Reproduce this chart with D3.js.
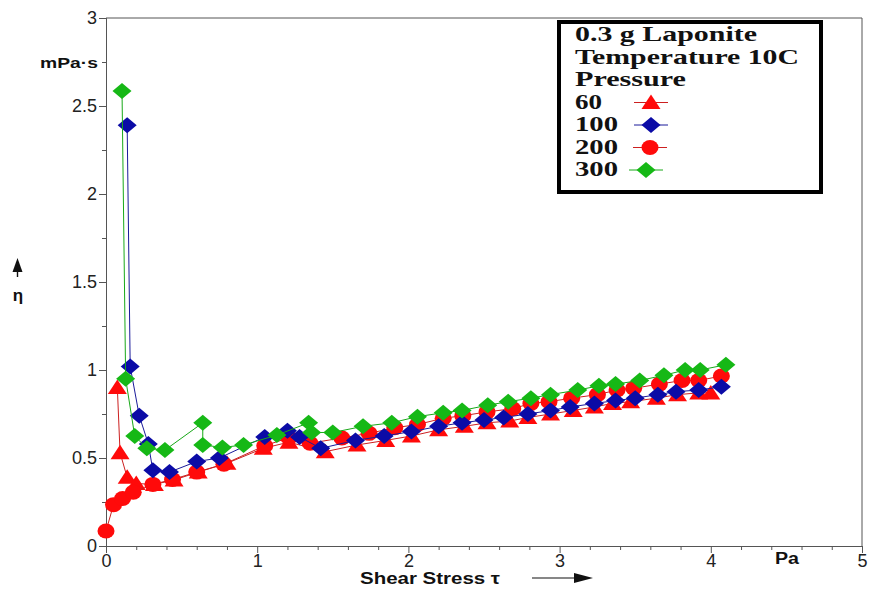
<!DOCTYPE html>
<html>
<head>
<meta charset="utf-8">
<script src="https://cdn.jsdelivr.net/npm/d3@7"></script>
<style>
  html, body { margin: 0; padding: 0; background: #fff; }
  svg { display: block; }
</style>
</head>
<body>
<svg id="chart" width="872" height="591"></svg>
<script>
// Viscosity η (mPa·s) versus shear stress τ (Pa), 0.3 g Laponite at 10 °C, four pressures
const xTicks = [0, 1, 2, 3, 4, 5];
const yTicks = [0, 0.5, 1, 1.5, 2, 2.5, 3];
const yTickLabels = ["0", "0.5", "1", "1.5", "2", "2.5", "3"];
const legendTitle = ["0.3 g Laponite", "Temperature 10C", "Pressure"];
const pressures = ["60", "100", "200", "300"];

// Pressure 60
const stress60 = [0.075, 0.093, 0.14, 0.20, 0.32, 0.45, 0.61, 0.80, 1.04, 1.21, 1.45, 1.66, 1.85, 2.02, 2.20, 2.37, 2.52, 2.67, 2.79, 2.94, 3.09, 3.23, 3.35, 3.47, 3.64, 3.78, 3.92, 4.00];
const visc60   = [0.90, 0.53, 0.39, 0.355, 0.35, 0.375, 0.42, 0.47, 0.555, 0.59, 0.536, 0.574, 0.60, 0.625, 0.66, 0.68, 0.70, 0.71, 0.73, 0.75, 0.77, 0.79, 0.81, 0.82, 0.84, 0.86, 0.87, 0.87];

// Pressure 100
const stress100 = [0.14, 0.16, 0.22, 0.28, 0.31, 0.42, 0.60, 0.75, 1.05, 1.20, 1.28, 1.42, 1.65, 1.84, 2.02, 2.20, 2.355, 2.50, 2.63, 2.79, 2.94, 3.07, 3.23, 3.37, 3.50, 3.65, 3.77, 3.92, 4.07];
const visc100   = [2.39, 1.02, 0.74, 0.58, 0.43, 0.42, 0.48, 0.50, 0.62, 0.655, 0.62, 0.555, 0.60, 0.625, 0.65, 0.68, 0.70, 0.716, 0.73, 0.75, 0.77, 0.79, 0.81, 0.826, 0.84, 0.86, 0.877, 0.886, 0.905];

// Pressure 200
const stress200 = [0.0, 0.05, 0.11, 0.18, 0.31, 0.44, 0.60, 0.78, 1.05, 1.21, 1.35, 1.56, 1.74, 1.91, 2.06, 2.23, 2.36, 2.52, 2.69, 2.81, 2.93, 3.08, 3.25, 3.38, 3.49, 3.66, 3.81, 3.92, 4.07];
const visc200   = [0.085, 0.235, 0.27, 0.305, 0.35, 0.378, 0.42, 0.465, 0.57, 0.615, 0.584, 0.614, 0.64, 0.672, 0.69, 0.726, 0.74, 0.762, 0.78, 0.81, 0.82, 0.84, 0.86, 0.886, 0.896, 0.92, 0.94, 0.94, 0.966];

// Pressure 300
const stress300 = [0.106, 0.13, 0.19, 0.27, 0.39, 0.64, 0.64, 0.77, 0.91, 1.13, 1.34, 1.36, 1.50, 1.70, 1.89, 2.06, 2.23, 2.355, 2.525, 2.66, 2.81, 2.94, 3.12, 3.26, 3.37, 3.53, 3.69, 3.83, 3.93, 4.10];
const visc300   = [2.585, 0.95, 0.625, 0.555, 0.545, 0.70, 0.574, 0.56, 0.574, 0.63, 0.70, 0.645, 0.645, 0.68, 0.70, 0.735, 0.757, 0.77, 0.80, 0.82, 0.84, 0.86, 0.886, 0.91, 0.92, 0.94, 0.97, 1.00, 1.00, 1.03];

const series = [
  { name: "60",  xs: stress60,  ys: visc60,  shape: "triangle", fill: "#ff0a0a", line: "#cc2020" },
  { name: "200", xs: stress200, ys: visc200, shape: "circle",   fill: "#ff0a0a", line: "#cc2020" },
  { name: "100", xs: stress100, ys: visc100, shape: "diamond",  fill: "#0b0ba6", line: "#1a1a9a" },
  { name: "300", xs: stress300, ys: visc300, shape: "diamond",  fill: "#16b816", line: "#18a818" }
];

const svg = d3.select("#chart");
const x = d3.scaleLinear().domain([0, 5]).range([106, 862]);
const y = d3.scaleLinear().domain([0, 3]).range([546, 18]);
const axisColor = "#555";
const sans = "Liberation Sans, Arial, sans-serif";

// frame (top and right)
svg.append("path")
  .attr("d", `M${x(0)},${y(3)}H${x(5)}V${y(0)}`)
  .attr("fill", "none").attr("stroke", axisColor).attr("stroke-width", 1);

// x axis with minor ticks
const xMinor = d3.range(0, 5.0001, 0.2).filter(v => Math.abs(v - Math.round(v)) > 1e-6);
const gx = svg.append("g").attr("transform", `translate(0,${y(0)})`);
gx.call(d3.axisBottom(x).tickValues(xMinor).tickSize(4).tickFormat(""));
gx.append("g").call(d3.axisBottom(x).tickValues(xTicks).tickSize(7).tickFormat(d3.format("d")));
gx.selectAll("path.domain").attr("stroke", axisColor);
gx.selectAll(".tick line").attr("stroke", axisColor);
gx.selectAll(".tick text")
  .attr("font-family", sans).attr("font-size", 18).attr("fill", "#222").attr("dy", "0.6em");

// y axis with minor ticks
const yMinor = d3.range(0.25, 3, 0.5);
const gy = svg.append("g").attr("transform", `translate(${x(0)},0)`);
gy.call(d3.axisLeft(y).tickValues(yMinor).tickSize(4).tickFormat(""));
gy.append("g").call(d3.axisLeft(y).tickValues(yTicks).tickSize(7)
  .tickFormat((d, i) => yTickLabels[i]));
gy.selectAll("path.domain").attr("stroke", axisColor);
gy.selectAll(".tick line").attr("stroke", axisColor);
gy.selectAll(".tick text")
  .attr("font-family", sans).attr("font-size", 18).attr("fill", "#222").attr("x", -9);

// axis titles
svg.append("text").attr("x", 40).attr("y", 68)
  .attr("font-family", sans).attr("font-weight", "bold").attr("font-size", 15)
  .attr("textLength", 58).attr("lengthAdjust", "spacingAndGlyphs")
  .attr("fill", "#111").text("mPa·s");
svg.append("text").attr("x", 775).attr("y", 564)
  .attr("font-family", sans).attr("font-weight", "bold").attr("font-size", 16)
  .attr("textLength", 24).attr("lengthAdjust", "spacingAndGlyphs")
  .attr("fill", "#111").text("Pa");
svg.append("text").attr("x", 360).attr("y", 584)
  .attr("font-family", sans).attr("font-weight", "bold").attr("font-size", 16)
  .attr("textLength", 140).attr("lengthAdjust", "spacingAndGlyphs")
  .attr("fill", "#111").text("Shear Stress τ");
// arrow after x title
svg.append("line").attr("x1", 532).attr("x2", 578).attr("y1", 578).attr("y2", 578)
  .attr("stroke", "#111").attr("stroke-width", 1.2);
svg.append("path").attr("d", "M574,573 L593,578 L574,583 Z").attr("fill", "#111");
// arrow above y title
svg.append("line").attr("x1", 17.5).attr("x2", 17.5).attr("y1", 262).attr("y2", 277)
  .attr("stroke", "#111").attr("stroke-width", 1.4);
svg.append("path").attr("d", "M12.5,272 L17.5,258 L22.5,272 Z").attr("fill", "#111");
svg.append("text").attr("x", 18).attr("y", 301).attr("text-anchor", "middle")
  .attr("font-family", sans).attr("font-weight", "bold").attr("font-size", 17)
  .attr("fill", "#111").text("η");

// marker drawing
function marker(sel, shape, fill) {
  if (shape === "circle") {
    sel.append("ellipse").attr("rx", 8.5).attr("ry", 7.5).attr("fill", fill);
  } else if (shape === "triangle") {
    sel.append("path").attr("d", "M0,-8 L9.5,6.5 L-9.5,6.5 Z").attr("fill", fill);
  } else {
    sel.append("path").attr("d", "M0,-8 L9.5,0 L0,8 L-9.5,0 Z").attr("fill", fill);
  }
}

const line = d3.line().x(d => x(d[0])).y(d => y(d[1]));

series.forEach(s => {
  const pts = s.xs.map((v, i) => [v, s.ys[i]]);
  const g = svg.append("g");
  g.append("path").datum(pts).attr("d", line)
    .attr("fill", "none").attr("stroke", s.line).attr("stroke-width", 1);
  g.selectAll("g.m").data(pts).enter().append("g")
    .attr("transform", d => `translate(${x(d[0])},${y(d[1])})`)
    .each(function () { marker(d3.select(this), s.shape, s.fill); });
});

// legend box
const lg = svg.append("g");
lg.append("rect").attr("x", 559).attr("y", 22).attr("width", 262).attr("height", 170)
  .attr("fill", "#fff").attr("stroke", "#000").attr("stroke-width", 4);
const serif = "Liberation Serif, Times New Roman, serif";
const titleWidths = [182, 224, 111];
legendTitle.forEach((t, i) => {
  lg.append("text").attr("x", 575).attr("y", 41 + i * 22.5)
    .attr("font-family", serif).attr("font-weight", "bold").attr("font-size", 21)
    .attr("textLength", titleWidths[i]).attr("lengthAdjust", "spacingAndGlyphs")
    .attr("fill", "#111").text(t);
});
const legendItems = [
  { label: pressures[0], shape: "triangle", fill: "#ff0a0a", line: "#cc2020", cx: 651 },
  { label: pressures[1], shape: "diamond",  fill: "#0b0ba6", line: "#1a1a9a", cx: 651 },
  { label: pressures[2], shape: "circle",   fill: "#ff0a0a", line: "#cc2020", cx: 650 },
  { label: pressures[3], shape: "diamond",  fill: "#16b816", line: "#18a818", cx: 646 }
];
legendItems.forEach((it, i) => {
  const yy = 108.5 + i * 22.5;
  lg.append("text").attr("x", 575).attr("y", yy)
    .attr("font-family", serif).attr("font-weight", "bold").attr("font-size", 21)
    .attr("textLength", it.label.length === 2 ? 27 : 43).attr("lengthAdjust", "spacingAndGlyphs")
    .attr("fill", "#111").text(it.label);
  lg.append("line").attr("x1", it.cx - 17).attr("x2", it.cx + 17)
    .attr("y1", yy - 6).attr("y2", yy - 6).attr("stroke", it.line).attr("stroke-width", 1);
  const m = lg.append("g").attr("transform", `translate(${it.cx},${yy - 6})`);
  marker(m, it.shape, it.fill);
});
</script>
</body>
</html>
